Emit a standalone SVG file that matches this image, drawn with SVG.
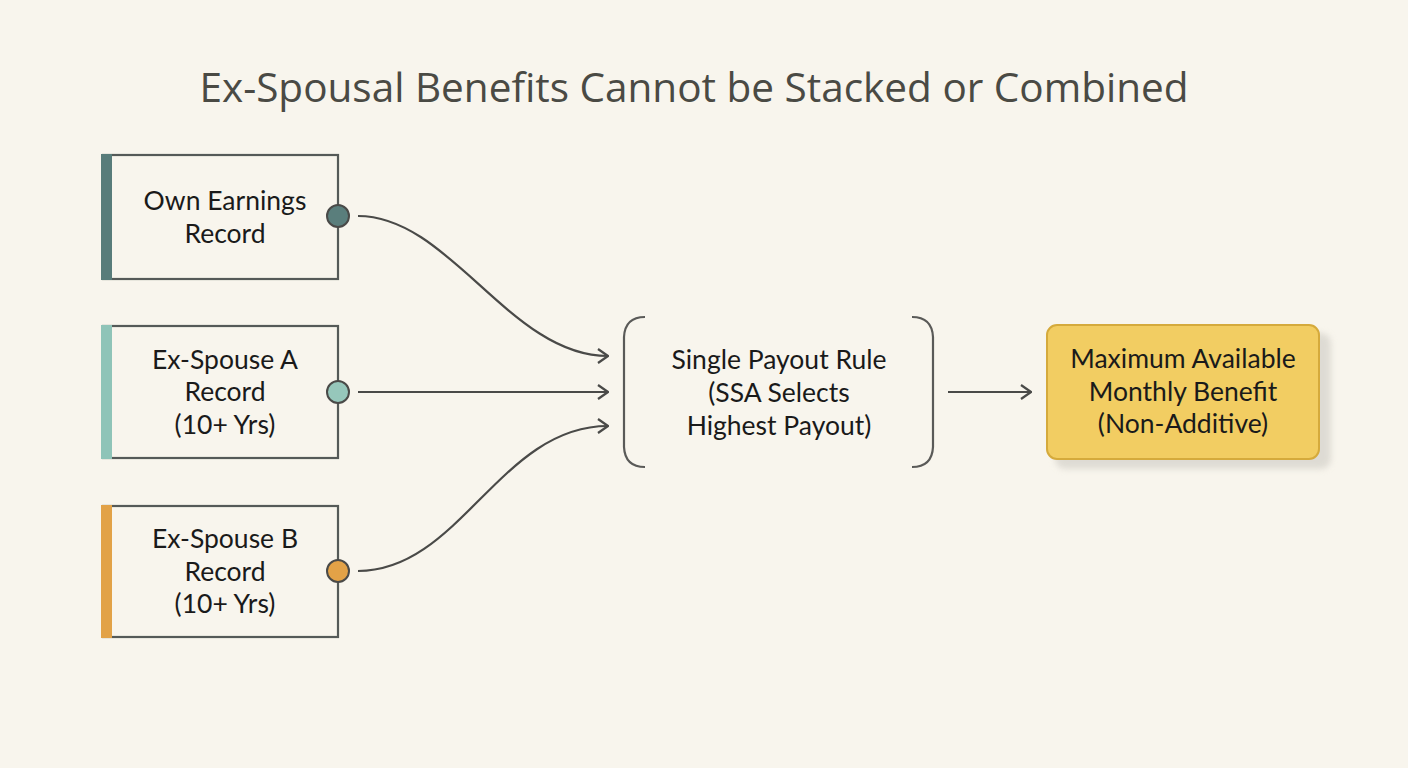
<svg xmlns="http://www.w3.org/2000/svg" width="1408" height="768" viewBox="0 0 1408 768">
<defs>
<style>
.bg{fill:#f8f5ed}
.title{font-family:"Open Sans","Noto Sans",sans-serif;font-size:40.5px;fill:#4a4a44;text-anchor:middle}
.lbl{font-family:Lato,"Noto Sans",sans-serif;font-size:26.5px;fill:#1a1a1a;text-anchor:middle}
.box{fill:#f8f5ed;stroke:#555a58;stroke-width:2.2}
.conn{fill:none;stroke:#4a4a48;stroke-width:2.2}
.brk{fill:none;stroke:#5a5a58;stroke-width:2.2}
</style>
<marker id="arr" viewBox="0 0 12 16" refX="11" refY="8" markerWidth="12" markerHeight="16" markerUnits="userSpaceOnUse" orient="auto">
<path d="M1,1 L11,8 L1,15" fill="none" stroke="#4a4a48" stroke-width="2.2"/>
</marker>
<filter id="sh" x="-10%" y="-10%" width="130%" height="140%"><feGaussianBlur stdDeviation="3"/></filter>
</defs>
<rect class="bg" x="0" y="0" width="1408" height="768"/>
<text class="title" x="694" y="102">Ex-Spousal Benefits Cannot be Stacked or Combined</text>

<g id="connectors">
<path class="conn" d="M358,216 C450,216 510,356 608,356" marker-end="url(#arr)"/>
<path class="conn" d="M358,392 L608,392" marker-end="url(#arr)"/>
<path class="conn" d="M358,571 C460,571 500,426 608,426" marker-end="url(#arr)"/>
<path class="conn" d="M948,392 L1031,392" marker-end="url(#arr)"/>
</g>

<g id="own">
<rect class="box" x="103" y="155" width="235" height="124"/>
<rect x="101" y="154" width="11" height="126" fill="#587c7a"/>
<circle cx="338" cy="216" r="11" fill="#5a7e7c" stroke="#4a4a48" stroke-width="2"/>
<text class="lbl" x="225" y="210">Own Earnings</text>
<text class="lbl" x="225" y="243">Record</text>
</g>

<g id="spouseA">
<rect class="box" x="103" y="326" width="235" height="132"/>
<rect x="101" y="325" width="11" height="134" fill="#8fc4b8"/>
<circle cx="338" cy="392" r="11" fill="#96c7bb" stroke="#4a4a48" stroke-width="2"/>
<text class="lbl" x="225" y="369">Ex-Spouse A</text>
<text class="lbl" x="225" y="401">Record</text>
<text class="lbl" x="225" y="434">(10+ Yrs)</text>
</g>

<g id="spouseB">
<rect class="box" x="103" y="506" width="235" height="131"/>
<rect x="101" y="505" width="11" height="133" fill="#e2a247"/>
<circle cx="338" cy="571" r="11" fill="#e3a247" stroke="#4a4a48" stroke-width="2"/>
<text class="lbl" x="225" y="548">Ex-Spouse B</text>
<text class="lbl" x="225" y="581">Record</text>
<text class="lbl" x="225" y="613">(10+ Yrs)</text>
</g>

<g id="rule">
<path class="brk" d="M645,317 Q625,317 624,337 L624,447 Q625,467 645,467"/>
<path class="brk" d="M912,317 Q932,317 933,337 L933,447 Q932,467 912,467"/>
<text class="lbl" x="779" y="369">Single Payout Rule</text>
<text class="lbl" x="779" y="402">(SSA Selects</text>
<text class="lbl" x="779" y="435">Highest Payout)</text>
</g>

<g id="max">
<rect x="1055" y="333" width="276" height="136" rx="10" fill="#d8d5ce" opacity="0.8" filter="url(#sh)"/>
<rect x="1047" y="325" width="272" height="134" rx="10" fill="#f2cd62" stroke="#d5aa3c" stroke-width="2"/>
<text class="lbl" x="1183" y="368">Maximum Available</text>
<text class="lbl" x="1183" y="401">Monthly Benefit</text>
<text class="lbl" x="1183" y="433">(Non-Additive)</text>
</g>
</svg>
